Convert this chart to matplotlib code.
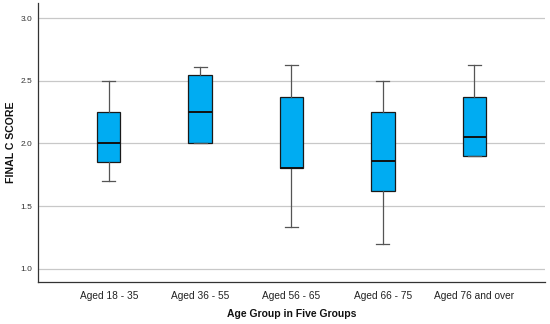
import matplotlib
matplotlib.use("Agg")
import matplotlib.pyplot as plt

plt.rcParams["font.family"] = ["Liberation Sans", "DejaVu Sans"]

categories = ["Aged 18 - 35", "Aged 36 - 55", "Aged 56 - 65", "Aged 66 - 75", "Aged 76 and over"]
whisker_low = [1.70, 2.00, 1.33, 1.20, 1.90]
q1 = [1.85, 2.00, 1.80, 1.62, 1.90]
median = [2.00, 2.25, 1.80, 1.86, 2.05]
q3 = [2.25, 2.55, 2.375, 2.25, 2.375]
whisker_high = [2.50, 2.61, 2.63, 2.50, 2.63]
yticks = [1.0, 1.5, 2.0, 2.5, 3.0]

stats = []
for i, c in enumerate(categories):
    stats.append(dict(label=c, whislo=whisker_low[i], q1=q1[i], med=median[i],
                      q3=q3[i], whishi=whisker_high[i], fliers=[]))

W, H = 550, 324
fig = plt.figure(figsize=(5.5, 3.24), dpi=100)
left, right, top, bottom = 37.5, 545.5, 3, 282.3
ax = fig.add_axes([left/W, 1-bottom/H, (right-left)/W, (bottom-top)/H])

ax.bxp(stats, positions=range(len(categories)), widths=0.255, patch_artist=True,
       showfliers=False, capwidths=0.145,
       boxprops=dict(facecolor="#00ACF2", edgecolor="#1a1a1a", linewidth=0.9),
       medianprops=dict(color="#111111", linewidth=1.4),
       whiskerprops=dict(color="#555555", linewidth=0.9),
       capprops=dict(color="#555555", linewidth=0.9))

ax.set_xlim(-0.78, 4.78)
ax.set_ylim(0.89, 3.123)
ax.set_yticks(yticks)
ax.set_yticklabels([f"{v:.1f}" for v in yticks], fontsize=6, color="#333333")
ax.set_xticks(range(len(categories)))
ax.set_xticklabels(categories, fontsize=7.3, color="#222222")
ax.tick_params(axis="y", length=0, pad=3.5)
ax.tick_params(axis="x", length=0, pad=6)
ax.yaxis.grid(True, color="#c8c8c8", linewidth=0.9)
ax.set_axisbelow(True)
for s in ["top", "right"]:
    ax.spines[s].set_visible(False)
for s in ["left", "bottom"]:
    ax.spines[s].set_color("#333333")
    ax.spines[s].set_linewidth(0.9)

ax.set_xlabel("Age Group in Five Groups", fontsize=7.5, fontweight="bold", color="#111111")
ax.set_ylabel("FINAL C SCORE", fontsize=7.6, fontweight="bold", color="#111111")
ax.xaxis.set_label_coords(0.5, -(314 - bottom) / (bottom - top), transform=ax.transAxes)
ax.yaxis.set_label_coords(-(left - 10.5) / (right - left), 0.5, transform=ax.transAxes)
ax.xaxis.label.set_va("center")
ax.yaxis.label.set_va("center")

fig.savefig("out.png", dpi=100)
